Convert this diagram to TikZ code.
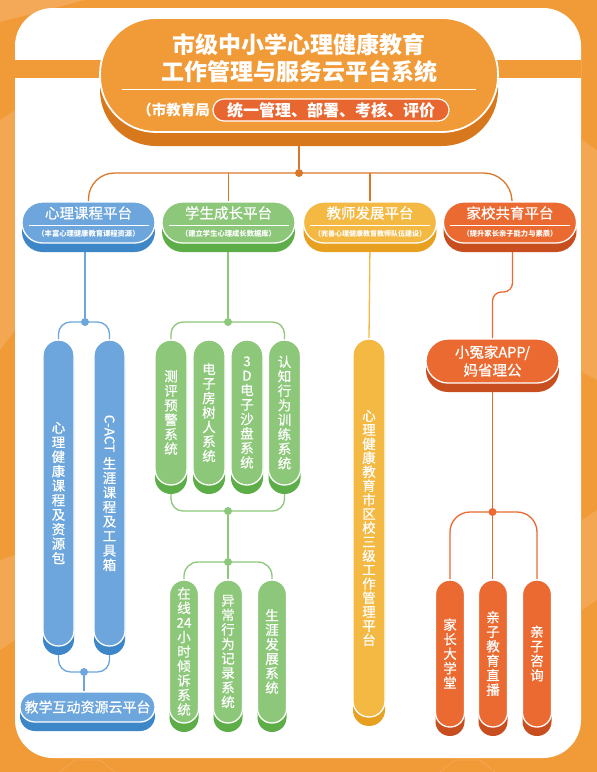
\documentclass[tikz,border=0pt]{standalone}
\usepackage{fontspec}
\setmainfont{Noto Sans CJK SC}
\newfontfamily\medfont[FakeBold=0.6]{Noto Sans CJK SC}
\usetikzlibrary{shadows,backgrounds}
\definecolor{bgor}{HTML}{F19A38}
\definecolor{bglt}{HTML}{F6B46E}
\definecolor{hdrdk}{HTML}{D8781C}
\definecolor{cline}{HTML}{D9782A}
\definecolor{cred}{HTML}{E8662F}
\definecolor{cblue}{HTML}{6CA6DC}
\definecolor{cbluedk}{HTML}{3D87C8}
\definecolor{cgreen}{HTML}{8CC77A}
\definecolor{cgreendk}{HTML}{5DAE48}
\definecolor{cyel}{HTML}{F4B943}
\definecolor{cyeldk}{HTML}{E8A021}
\definecolor{corg}{HTML}{EB6A31}
\definecolor{corgdk}{HTML}{C84E1F}
\tikzset{
  box/.style={draw=white, line width=1.3pt, inner sep=0pt, text=white, align=center},
  colbox/.style 2 args={box, fill=#1, general shadow={fill=#2, shadow yshift=-9pt}},
  plat/.style 2 args={colbox={#1}{#2}, minimum width=133pt, minimum height=41pt, rounded corners=20.4pt},
  vpill/.style={font=\medfont\fontsize{13.5}{14.5}\selectfont},
  ptitle/.style={text=white, inner sep=0pt, font=\medfont\fontsize{14.5}{16}\selectfont},
  psub/.style={text=white, inner sep=0pt, font=\bfseries\fontsize{7.3}{8}\selectfont},
  ttl/.style={text=white, inner sep=0pt, font=\bfseries\fontsize{23}{25}\selectfont},
  dot/.style={circle, fill=#1, inner sep=0pt, minimum size=8pt},
  conn/.style={draw=#1, line width=1.3pt, rounded corners=12pt},
}
\begin{document}
\begin{tikzpicture}[x=1pt,y=-1pt]
\useasboundingbox (0,0) rectangle (597,772);
\begin{pgfonlayer}{background}
  \fill[bgor] (0,0) rectangle (597,772);
  % faint background decorations
  \fill[bglt, opacity=0.6] (0,0) -- (85,0) -- (0,22) -- cycle;
  \fill[bglt, opacity=0.5] (0,120) -- (15,110) -- (15,330) -- (0,350) -- cycle;
  \fill[bglt, opacity=0.5] (0,560) -- (15,555) -- (15,640) -- (0,650) -- cycle;
  \fill[bglt, opacity=0.5] (582,140) -- (597,150) -- (597,380) -- (582,372) -- cycle;
  \fill[bglt, opacity=0.5] (582,520) -- (597,510) -- (597,600) -- (582,610) -- cycle;
  \draw[bglt, opacity=0.6, line width=0.6pt] (440,772) -- (455,760) -- (480,760) -- (495,772);
  \draw[bglt, opacity=0.6, line width=0.6pt] (60,772) -- (75,760) -- (100,760) -- (115,772);
  % white panel and band
  \fill[white, rounded corners=38pt] (15,8) rectangle (581,758);
  \fill[bgor] (15,60) rectangle (581,78);
\end{pgfonlayer}

% header
\node[colbox={bgor}{hdrdk}, line width=1.8pt, minimum width=398pt, minimum height=114pt, rounded corners=56pt, general shadow={fill=hdrdk, shadow yshift=-14pt}] (hdr) at (299,75) {};
\node[ttl] (t1) at (299,45) {市级中小学心理健康教育};
\node[ttl] (t2) at (299,72) {工作管理与服务云平台系统};
\draw[white, line width=1pt] (122,89) -- (476,89);
\node[text=white, inner sep=0pt, anchor=east, font=\bfseries\fontsize{14.5}{16}\selectfont] (sub) at (210,110) {（市教育局};
\node[box, fill=cred, line width=1.2pt, minimum width=236pt, minimum height=22pt, rounded corners=10.9pt, font=\bfseries\fontsize{16}{18}\selectfont] (rp) at (331,110) {统一管理、部署、考核、评价};

% platform nodes
\node[plat={cblue}{cbluedk}] (p1) at (88.5,222.5) {};
\node[plat={cgreen}{cgreendk}] (p2) at (228.5,222.5) {};
\node[plat={cyel}{cyeldk}] (p3) at (370,222.5) {};
\node[plat={corg}{corgdk}] (p4) at (510,222.5) {};
\node[ptitle] (p1t) at (88.5,213) {心理课程平台};
\node[ptitle] (p2t) at (228.5,213) {学生成长平台};
\node[ptitle] (p3t) at (370,213) {教师发展平台};
\node[ptitle] (p4t) at (510,213) {家校共育平台};
\foreach \cx in {88.5,228.5,370,510}{\draw[white, line width=0.9pt] (\cx-60,225) -- (\cx+60,225);}
\node[psub] (p1s) at (88.5,234) {（丰富心理健康教育课程资源）};
\node[psub] (p2s) at (228.5,234) {（建立学生心理成长数据库）};
\node[psub, font=\bfseries\fontsize{7}{8}\selectfont] (p3s) at (370,234) {（完善心理健康教育教师队伍建设）};
\node[psub] (p4s) at (510,234) {（提升家长亲子能力与素质）};

% blue column
\node[colbox={cblue}{cbluedk}, vpill, minimum width=31pt, minimum height=306pt, rounded corners=15.4pt] (b1) at (58.5,493) {心\\理\\健\\康\\课\\程\\及\\资\\源\\包};
\node[colbox={cblue}{cbluedk}, vpill, minimum width=31pt, minimum height=306pt, rounded corners=15.4pt] (b2) at (109.5,493) {\rotatebox[origin=c]{-90}{C-ACT}\\[4pt]生\\涯\\课\\程\\及\\工\\具\\箱};
\node[colbox={cblue}{cbluedk}, minimum width=135pt, minimum height=30pt, rounded corners=14.9pt, font=\medfont\fontsize{14}{16}\selectfont] (bt) at (87.5,707) {教学互动资源云平台};

% green column
\node[colbox={cgreen}{cgreendk}, vpill, minimum width=32pt, minimum height=145pt, rounded corners=15.9pt] (g1) at (171,412.5) {测\\评\\预\\警\\系\\统};
\node[colbox={cgreen}{cgreendk}, vpill, minimum width=32pt, minimum height=145pt, rounded corners=15.9pt] (g2) at (209,412.5) {电\\子\\房\\树\\人\\系\\统};
\node[colbox={cgreen}{cgreendk}, vpill, minimum width=32pt, minimum height=145pt, rounded corners=15.9pt] (g3) at (247,412.5) {3\\D\\电\\子\\沙\\盘\\系\\统};
\node[colbox={cgreen}{cgreendk}, vpill, minimum width=32pt, minimum height=145pt, rounded corners=15.9pt] (g4) at (284.5,412.5) {认\\知\\行\\为\\训\\练\\系\\统};
\node[colbox={cgreen}{cgreendk}, vpill, minimum width=29pt, minimum height=143pt, rounded corners=14.4pt] (h1) at (184,651.5) {在\\线\\24\\小\\时\\倾\\诉\\系\\统};
\node[colbox={cgreen}{cgreendk}, vpill, minimum width=29pt, minimum height=143pt, rounded corners=14.4pt] (h2) at (228,651.5) {异\\常\\行\\为\\记\\录\\系\\统};
\node[colbox={cgreen}{cgreendk}, vpill, minimum width=29pt, minimum height=143pt, rounded corners=14.4pt] (h3) at (272,651.5) {生\\涯\\发\\展\\系\\统};

% yellow column
\node[colbox={cyel}{cyeldk}, vpill, font=\medfont\fontsize{13.5}{14}\selectfont, minimum width=32pt, minimum height=378pt, rounded corners=15.9pt] (y1) at (369,528) {心\\理\\健\\康\\教\\育\\市\\区\\校\\三\\级\\工\\作\\管\\理\\平\\台};

% orange column
\node[colbox={corg}{corgdk}, minimum width=133pt, minimum height=44pt, rounded corners=21.9pt, font=\medfont\fontsize{14.5}{18}\selectfont] (app) at (492.5,361) {小冤家APP/\\妈省理公};
\node[colbox={corg}{corgdk}, vpill, minimum width=29pt, minimum height=147pt, rounded corners=14.4pt] (o1) at (450,653.5) {家\\长\\大\\学\\堂};
\node[colbox={corg}{corgdk}, vpill, minimum width=29pt, minimum height=147pt, rounded corners=14.4pt] (o2) at (493,653.5) {亲\\子\\教\\育\\直\\播};
\node[colbox={corg}{corgdk}, vpill, minimum width=29pt, minimum height=147pt, rounded corners=14.4pt] (o3) at (537,653.5) {亲\\子\\咨\\询};

% dots
\node[dot=cline] (d0) at (299,173) {};
\node[dot=cblue] (d1) at (85,322) {};
\node[dot=cblue] (d2) at (84,672) {};
\node[dot=cgreen] (d3) at (228,322) {};
\node[dot=cgreen] (d4) at (228,511) {};
\node[dot=cgreen] (d5) at (228,562) {};
\node[dot=corg] (d6) at (492.5,512) {};

% connectors (behind nodes)
\begin{pgfonlayer}{background}
  \draw[conn=cline] (hdr.south) -- (d0);
  \draw[conn=cline, rounded corners=26pt] (p1.north) -- (p1.north |- d0) -- (p4.north |- d0) -- ([xshift=2pt]p4.north);
  \draw[conn=cline] (p2.north |- d0) -- (p2.north);
  \draw[conn=cline] (p3.north |- d0) -- (p3.north);
  % blue
  \draw[conn=cblue] (p1.south -| d1) -- (d1);
  \draw[conn=cblue] (b1.north) -- (b1.north |- d1) -- (b2.north |- d1) -- (b2.north);
  \draw[conn=cblue] (b1.south) -- (b1.south |- d2) -- (b2.south |- d2) -- (b2.south);
  \draw[conn=cblue] (d2) -- (d2 |- bt.north);
  % green
  \draw[conn=cgreen] (p2.south -| d3) -- (d3);
  \draw[conn=cgreen] (g1.north) -- (g1.north |- d3) -- (g4.north |- d3) -- (g4.north);
  \draw[conn=cgreen] (g1.south) -- (g1.south |- d4) -- (g4.south |- d4) -- (g4.south);
  \draw[conn=cgreen] (d4) -- (d5);
  \draw[conn=cgreen, rounded corners=14pt] (h1.north) -- (h1.north |- d5) -- (h3.north |- d5) -- (h3.north);
  \draw[conn=cgreen] (d5) -- (h2.north);
  % yellow
  \draw[conn=cyel] (p3.south) -- (y1.north);
  % orange
  \draw[conn=corg, rounded corners=9pt] ([xshift=2.5pt]p4.south) -- ([xshift=2.5pt]p4.south |- 0,292) -- (app.north |- 0,292) -- (app.north);
  \draw[conn=corg] (app.south) -- (d6);
  \draw[conn=corg, rounded corners=20pt] (o1.north) -- (o1.north |- d6) -- (o3.north |- d6) -- (o3.north);
  \draw[conn=corg] (d6) -- (d6 |- o2.north);
\end{pgfonlayer}
\end{tikzpicture}
\end{document}
